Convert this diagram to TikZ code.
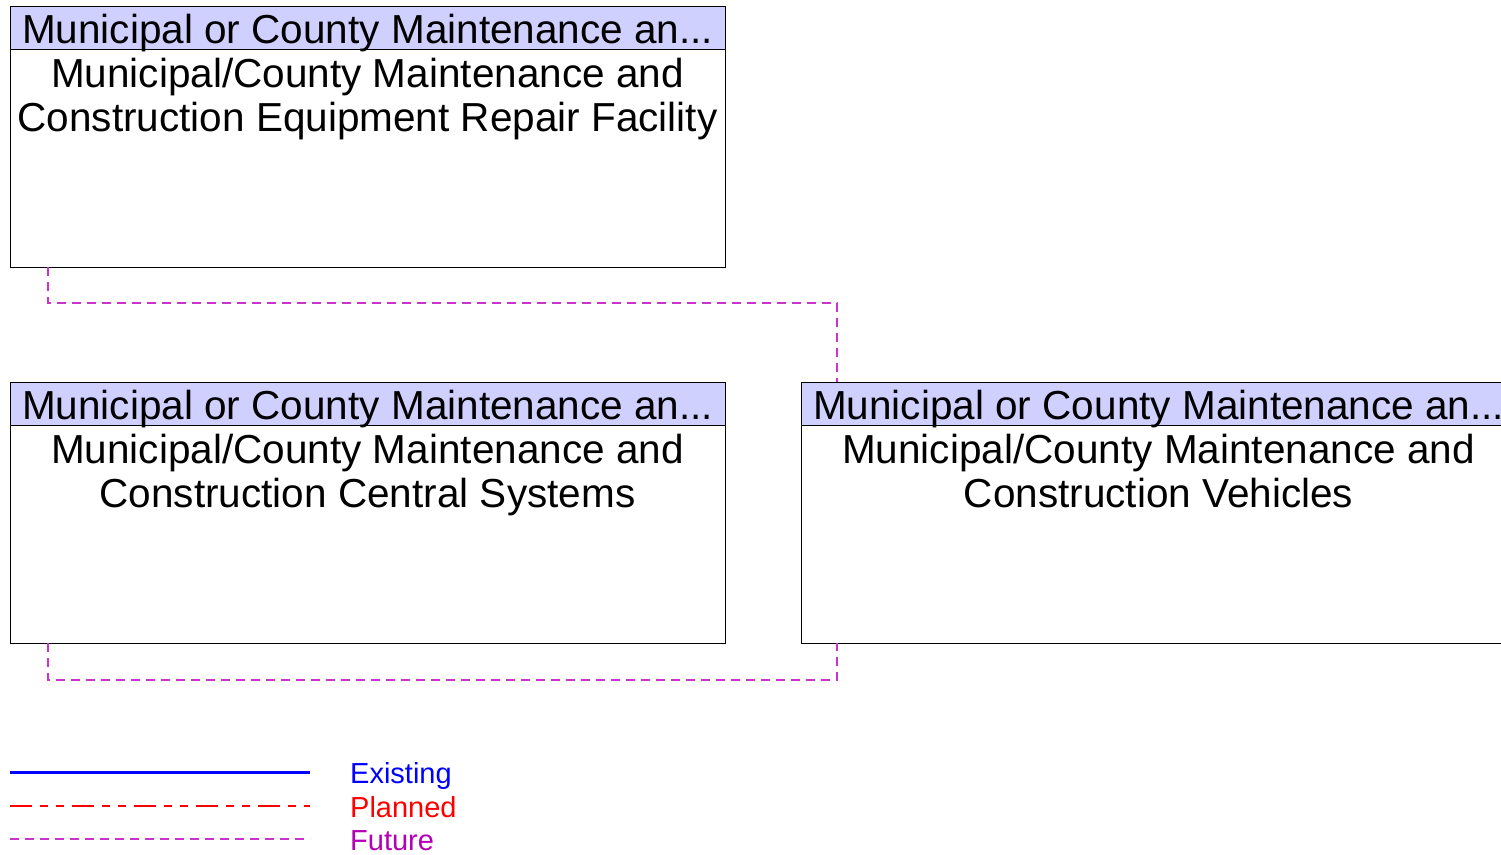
\documentclass[tikz,border=0pt]{standalone}
\usepackage{fontspec}
\setmainfont{Liberation Sans}
\usetikzlibrary{calc}
\definecolor{hdr}{RGB}{208,208,255}
\definecolor{futurec}{RGB}{204,51,204}
\definecolor{futuretext}{RGB}{180,0,180}
\begin{document}
\begin{tikzpicture}[x=1pt,y=-1pt,
  box/.style={draw=black,line width=1pt,fill=white,minimum width=715pt,minimum height=261pt,anchor=north west,inner sep=0pt,outer sep=0pt},
  hdrbox/.style={draw=black,line width=1pt,fill=hdr,minimum width=715pt,minimum height=43pt,anchor=north west,inner sep=0pt,outer sep=0pt},
  hdrtext/.style={anchor=base west,inner sep=0pt,font=\fontsize{40.5}{45}\selectfont},
  bodytext/.style={anchor=base,inner sep=0pt,font=\fontsize{40.5}{45}\selectfont},
  futureline/.style={draw=futurec,line width=1.3pt,dash pattern=on 9pt off 6pt},
  plannedline/.style={draw=red,line width=1.3pt,dash pattern=on 22pt off 8pt on 8pt off 8pt on 8pt off 8pt},
  existline/.style={draw=blue,line width=3pt},
  legtext/.style={anchor=base west,inner sep=0pt,font=\fontsize{29}{32}\selectfont}]
\useasboundingbox (0,0) rectangle (1501,854);
\begin{scope}
\clip (0,0) rectangle (1501,854);
% box 1
\node[box] (b1) at (10,6) {};
\node[hdrbox] (h1) at (10,6) {};
\node[hdrtext] (h1t) at (22,43) {Municipal or County Maintenance an...};
\node[bodytext] (b1l1) at (367.5,87) {Municipal/County Maintenance and};
\node[bodytext] (b1l2) at (367.5,131) {Construction Equipment Repair Facility};
% box 2
\node[box] (b2) at (10,382) {};
\node[hdrbox] (h2) at (10,382) {};
\node[hdrtext] (h2t) at (22,419) {Municipal or County Maintenance an...};
\node[bodytext] (b2l1) at (367.5,463) {Municipal/County Maintenance and};
\node[bodytext] (b2l2) at (367.5,507) {Construction Central Systems};
% box 3
\node[box] (b3) at (801,382) {};
\node[hdrbox] (h3) at (801,382) {};
\node[hdrtext] (h3t) at (813,419) {Municipal or County Maintenance an...};
\node[bodytext] (b3l1) at (1158.5,463) {Municipal/County Maintenance and};
\node[bodytext] (b3l2) at (1158.5,507) {Construction Vehicles};
\end{scope}
% connectors
\coordinate (c1a) at ($(b1.south west)+(38,0)$);
\coordinate (c1b) at ($(b3.north west)+(36,0)$);
\draw[futureline] (c1a) -- ++(0,36) -| (c1b);
\coordinate (c2a) at ($(b2.south west)+(38,0)$);
\coordinate (c2b) at ($(b3.south west)+(36,0)$);
\draw[futureline] (c2a) -- ++(0,37) -| (c2b);
% legend
\coordinate (le1) at (10,772);
\coordinate (le2) at (310,772);
\coordinate (lp1) at (10,806);
\coordinate (lp2) at (310,806);
\coordinate (lf1) at (10,839);
\coordinate (lf2) at (310,839);
\draw[existline] (le1) -- (le2);
\draw[plannedline] (lp1) -- (lp2);
\draw[futureline] (lf1) -- (lf2);
\node[legtext,text=blue] (lt1) at (350,783) {Existing};
\node[legtext,text=red] (lt2) at (350,817) {Planned};
\node[legtext,text=futuretext] (lt3) at (350,850) {Future};
\end{tikzpicture}
\end{document}
